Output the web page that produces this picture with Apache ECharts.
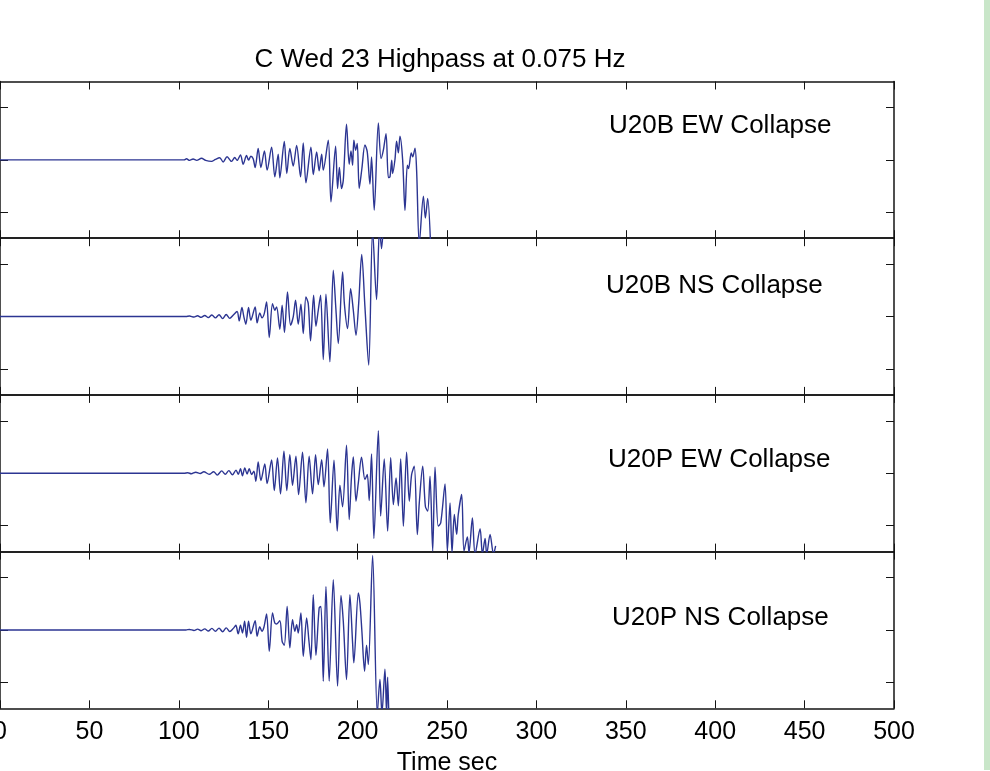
<!DOCTYPE html>
<html>
<head>
<meta charset="utf-8">
<script src="https://cdn.jsdelivr.net/npm/echarts@6/dist/echarts.min.js"></script>
<style>
  html, body { margin: 0; padding: 0; background: #fff; }
  #chart { width: 990px; height: 771px; }
</style>
</head>
<body>
<div id="chart"></div>
<script>
// x axis ticks (seconds)
const xTicks = [0, 50, 100, 150, 200, 250, 300, 350, 400, 450, 500];
const yTicks = [-1, 0, 1];
const panelNames = ['U20B EW Collapse', 'U20B NS Collapse', 'U20P EW Collapse', 'U20P NS Collapse'];

// U20B EW
const tBEW = [0, 103, 104.3, 106, 108, 110, 112.7, 115, 118.3, 120.5, 122.9, 124.8, 127, 129.5, 131.3, 132.6,
  134.5, 136.0, 137.9, 139.0, 140.3, 141.6, 142.7, 144.4, 145.9, 147.9, 149.4, 151.9, 153.7, 155.6, 156.5,
  159.0, 160.4, 162.1, 164.0, 165.9, 168.1, 169.6, 171.1, 173.9, 175.2, 177.1, 178.5, 179.9, 180.8, 183.6,
  185.1, 187.7, 188.8, 189.8, 191.0, 192.0, 193.8, 195.3, 196.3, 197.2, 197.9, 198.9, 199.8, 200.9, 202.4,
  204.1, 205.4, 206.9, 207.8, 209.3, 211.6, 213.1, 214.4, 215.9, 217.2, 218.1, 219.1, 219.6, 220.9, 221.8,
  222.8, 223.7, 225.2, 226.5, 227.8, 228.5, 230.0, 230.8, 232.1, 233.0, 234.5, 236.8, 237.9, 239.2, 240.9];
const aBEW = [0, 0, 0.02, -0.01, 0.015, -0.01, 0.03, -0.01, -0.03, 0.01, 0.04, -0.04, 0.06, -0.03, 0.045, -0.01,
  0.096, -0.083, 0.083, -0.006, 0.07, 0.019, -0.146, 0.217, -0.146, 0.172, -0.197, 0.242, -0.325, 0.108, -0.344,
  0.35, -0.261, 0.217, -0.121, 0.274, -0.325, 0.325, -0.439, 0.242, -0.28, 0.153, -0.21, 0.108, -0.197, 0.376,
  -0.805, 0.261, -0.548, -0.146, -0.548, -0.389, 0.682, -0.083, 0.172, -0.102, 0.376, 0.185, 0.312, -0.548, -0.166,
  0.287, 0.153, -0.465, 0.057, -0.961, 0.707, 0.025, 0.185, 0.503, -0.338, -0.325, -0.006, -0.261, 0.006, 0.357,
  0.134, 0.452, -0.006, -0.968, -0.102, -0.166, 0.134, 0.057, 0.223, -0.197, -1.6, -0.695, -1.115, -0.739, -1.7];

// U20B NS
const tBNS = [0, 104, 106, 108.5, 110.5, 112.5, 114.5, 116.5, 118.5, 120.5, 122.5, 124.5, 126.5, 128.5, 130.5,
  132.6, 133.8, 135.3, 136.4, 137.5, 139.0, 140.3, 142.7, 143.8, 145.3, 146.5, 147.8, 149.1, 150.6, 152.4,
  153.7, 154.7, 156.5, 157.8, 159.1, 160.8, 162.5, 164.0, 165.3, 166.8, 168.3, 169.6, 171.1, 172.4, 173.7,
  175.4, 176.7, 178.0, 179.3, 180.8, 182.3, 184.5, 186.4, 187.9, 189.2, 191.6, 192.6, 194.4, 196.1, 197.6,
  199.1, 200.6, 202.3, 204.1, 206.2, 208.4, 210.6, 212.3, 213.4, 214.5];
const aBNS = [0, 0, 0.01, -0.01, 0.015, -0.015, 0.02, -0.02, 0.03, -0.025, 0.035, -0.04, 0.04, -0.035, 0.03,
  0.096, -0.083, 0.172, -0.006, -0.146, 0.172, -0.07, 0.185, -0.121, 0.07, -0.025, 0.057, 0.28, -0.4, 0.248,
  0.121, 0.185, -0.242, 0.217, -0.306, 0.471, -0.166, -0.006, 0.312, -0.146, 0.236, -0.325, 0.376, 0.248, -0.465,
  0.408, -0.185, 0.121, 0.408, -0.822, 0.427, -0.866, 0.885, 0.121, -0.516, 0.854, 0.248, -0.229, 0.535, 0.121,
  -0.357, 0.248, 1.19, 0.185, -0.93, 1.65, 0.325, 1.7, 1.3, 1.8];

// U20P EW
const tPEW = [0, 103, 105, 107, 109.5, 112, 114, 117, 119.5, 121.5, 124, 126, 128, 130, 132, 133.3,
  134.5, 135.6, 136.9, 138.2, 139.4, 140.7, 142.0, 143.1, 144.4, 145.9, 148.1, 149.4, 151.9, 153.4, 155.2,
  156.9, 158.8, 160.4, 162.1, 163.6, 165.5, 167.0, 169.2, 171.1, 172.9, 174.8, 176.5, 178.0, 179.9, 181.2,
  183.2, 184.7, 186.8, 188.6, 190.1, 191.6, 193.8, 195.3, 196.6, 197.6, 199.1, 200.4, 202.2, 204.1, 205.4,
  206.5, 207.8, 209.1, 211.6, 212.9, 214.9, 216.8, 218.5, 220.0, 221.5, 222.8, 224.1, 225.6, 227.4, 228.9,
  230.2, 231.7, 233.4, 234.5, 236.4, 237.9, 239.2, 240.5, 242.0, 243.3, 245.1, 246.5, 248.9, 250.2, 251.7,
  252.8, 254.1, 255.4, 256.3, 258.2, 259.5, 261.4, 262.3, 264.2, 265.7, 268.5, 269.8, 271.3, 272.2, 274.1,
  276.0, 277.2];
const aPEW = [0, 0, 0.01, -0.01, 0.02, -0.005, 0.03, -0.02, 0.03, -0.035, 0.045, -0.02, 0.05, -0.03, 0.06, -0.02,
  0.089, -0.05, 0.1, -0.013, 0.089, -0.025, 0.038, -0.153, 0.217, -0.14, 0.178, -0.197, 0.255, -0.331, 0.293,
  -0.395, 0.42, -0.331, 0.357, -0.229, 0.325, -0.408, 0.401, -0.567, 0.325, -0.395, 0.357, -0.217, 0.261, -0.261,
  0.465, -0.949, 0.248, -1.108, -0.229, -0.643, 0.535, -0.885, -0.057, 0.312, -0.535, -0.185, 0.306, -0.121, -0.025,
  -0.522, 0.369, -1.248, 0.815, -0.82, 0.274, -1.108, 0.299, -0.599, -0.09, -0.624, 0.274, -1.013, 0.401, -0.535,
  -0.025, 0.134, -1.172, -0.567, 0.134, -0.631, -0.726, -0.057, -1.49, 0.115, -1.013, -0.949, -0.204, -1.49, -0.567,
  -1.52, -0.79, -1.17, -0.79, -0.408, -1.49, -1.22, -1.52, -0.857, -1.55, -1.06, -1.55, -1.25, -1.55, -1.17,
  -1.55, -1.39];

// U20P NS
const tPNS = [0, 104, 106, 108.5, 110.5, 112.5, 114.5, 116.5, 118.5, 120.5, 122.5, 124.5, 126.5, 128.5, 130.5,
  131.9, 133.2, 134.5, 135.6, 136.8, 137.9, 139.0, 140.3, 142.7, 143.8, 145.3, 146.5, 147.6, 149.1, 150.6,
  152.4, 153.7, 154.7, 156.5, 157.8, 159.0, 160.6, 162.1, 163.6, 164.9, 165.9, 166.8, 168.3, 169.6, 171.5,
  172.8, 173.9, 175.2, 176.7, 178.5, 179.5, 180.8, 182.3, 184.1, 186.4, 188.8, 190.7, 192.0, 193.8, 195.7,
  197.2, 197.9, 200.4, 201.3, 202.4, 203.9, 205.0, 206.0, 208.4, 211.0, 212.5, 213.6, 215.3, 216.2, 216.8,
  217.5];
const aPNS = [0, 0, 0.01, -0.01, 0.015, -0.015, 0.02, -0.02, 0.03, -0.025, 0.035, -0.035, 0.04, -0.03, 0.03,
  0.089, -0.076, 0.089, -0.057, 0.166, -0.14, 0.166, -0.076, 0.178, -0.121, 0.064, -0.025, 0.051, 0.306, -0.408,
  0.325, 0.134, 0.115, 0.178, -0.217, -0.293, 0.452, -0.344, 0.197, -0.025, 0.102, -0.057, 0.325, -0.503, 0.229,
  -0.217, -0.567, 0.675, -0.484, 0.42, 0.452, -0.981, 0.834, -0.981, 0.962, -1.076, 0.662, 0.166, -0.949, 0.675,
  -0.248, -0.631, 0.707, 0.516, -0.025, -0.79, -0.293, -0.662, 1.427, -1.6, -0.949, -1.6, -0.752, -1.6, -0.904,
  -1.7];

const panels = [[tBEW, aBEW], [tBNS, aBNS], [tPEW, aPEW], [tPNS, aPNS]];

const FONT = '"Liberation Sans", Arial, Helvetica, sans-serif';
const INK = '#141414';
const LINE = '#2c3592';
const top0 = 81.5, panelH = 156.7;

const grid = [], xAxis = [], yAxis = [], series = [];

panels.forEach(([t, a], i) => {
  grid.push({ left: 0, right: 96, top: top0 + i * panelH, height: panelH,
    containLabel: false, outerBoundsMode: 'none' });
  const isLast = i === panels.length - 1;
  ['bottom', 'top'].forEach((pos) => {
    xAxis.push({
      type: 'value', gridIndex: i, position: pos, min: 0, max: 500, interval: 50,
      axisLine: { show: true, onZero: false, lineStyle: { color: INK, width: 1.5 } },
      axisTick: { show: true, inside: true, length: 8, lineStyle: { color: INK, width: 1 } },
      axisLabel: { show: isLast && pos === 'bottom', margin: 11, color: '#000', fontSize: 25, fontFamily: FONT,
        customValues: xTicks },
      splitLine: { show: false }
    });
  });
  ['left', 'right'].forEach((pos) => {
    yAxis.push({
      type: 'value', gridIndex: i, position: pos, min: -1.5, max: 1.5,
      axisLine: { show: true, onZero: false, lineStyle: { color: INK, width: 1.5 } },
      axisTick: { show: true, inside: true, length: 8, customValues: yTicks, lineStyle: { color: INK, width: 1 } },
      axisLabel: { show: false },
      splitLine: { show: false }
    });
  });
  series.push({
    type: 'line', name: panelNames[i],
    xAxisIndex: i * 2, yAxisIndex: i * 2,
    data: t.map((v, k) => [v, a[k]]),
    showSymbol: false, symbol: 'none', smooth: 0.3, clip: true,
    lineStyle: { color: LINE, width: 1.4 },
    animation: false
  });
});

const labelPos = [[609, 126], [606, 285.5], [608, 460], [612, 617.5]];
const graphic = [
  { type: 'rect', shape: { x: 984, y: 0, width: 6, height: 770 }, style: { fill: '#c9e6c9' } },
  { type: 'text', x: 440, y: 60, style: { text: 'C Wed 23 Highpass at 0.075 Hz', font: '26px ' + FONT,
    fill: '#000', textAlign: 'center', textVerticalAlign: 'middle' } },
  { type: 'text', x: 447, y: 763, style: { text: 'Time sec', font: '25px ' + FONT,
    fill: '#000', textAlign: 'center', textVerticalAlign: 'middle' } }
];
panelNames.forEach((n, i) => {
  graphic.push({ type: 'text', x: labelPos[i][0], y: labelPos[i][1],
    style: { text: n, font: '26px ' + FONT, fill: '#000', textAlign: 'left', textVerticalAlign: 'middle' } });
});

const chart = echarts.init(document.getElementById('chart'), null, { renderer: 'canvas' });
chart.setOption({
  animation: false,
  backgroundColor: '#fff',
  grid, xAxis, yAxis, series, graphic
});
</script>
</body>
</html>
